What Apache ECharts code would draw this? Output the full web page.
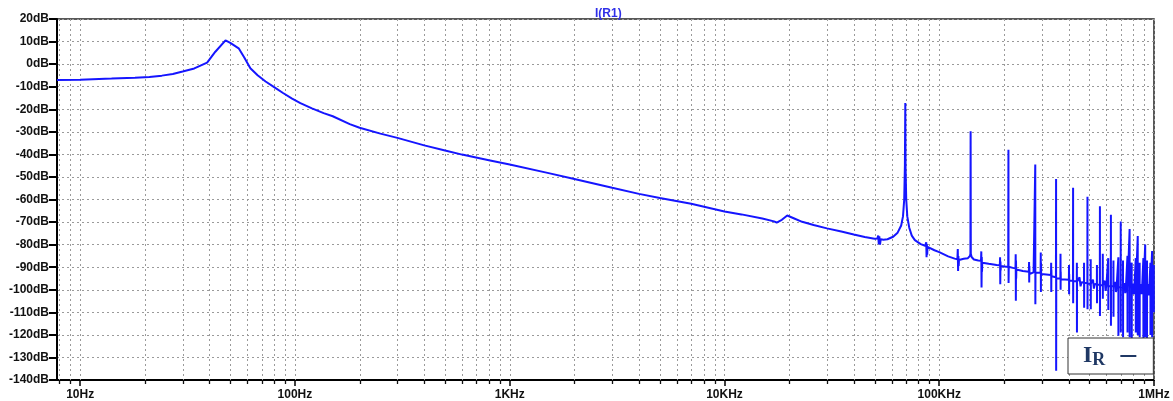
<!DOCTYPE html>
<html><head><meta charset="utf-8">
<script src="https://cdn.jsdelivr.net/npm/echarts@6/dist/echarts.min.js"></script>
<style>html,body{margin:0;padding:0;background:#fff}#c{width:1173px;height:401px}</style>
</head><body><div id="c"></div>
<script>
const titleText = 'I(R1)';
const seriesName = 'IR';
const yMin = -140, yMax = 20, yStep = 10;
const xMin = 7.8, xMax = 1000000;
const xTickFreqs = [10, 100, 1000, 10000, 100000, 1000000];
const xTickLabels = ['10Hz', '100Hz', '1KHz', '10KHz', '100KHz', '1MHz'];
const gridFreqs = [8, 9,
  10, 20, 30, 40, 50, 60, 70, 80, 90,
  100, 200, 300, 400, 500, 600, 700, 800, 900,
  1000, 2000, 3000, 4000, 5000, 6000, 7000, 8000, 9000,
  10000, 20000, 30000, 40000, 50000, 60000, 70000, 80000, 90000,
  100000, 200000, 300000, 400000, 500000, 600000, 700000, 800000, 900000,
  1000000];

// [frequency Hz, level dB]
const lowBand = [
  [7.8,-7.0],[10,-6.9],[14,-6.4],[18,-6.0],[21,-5.7],[24,-5.1],[27,-4.4],[30,-3.3],
  [34,-1.9],[39,0.7],[42.6,5.5],[47.5,10.5],[50,9.4],[54.7,7.0],[58,3.0],[62,-1.8],
  [67,-4.9],[73,-7.7],[80,-10.2],[88,-12.8],[97,-15.3],[106,-17.3],[120,-19.6],
  [136,-21.7],[150,-23.1],[180,-26.6],[200,-28.2],[250,-30.8],[300,-32.7],[400,-36.0],
  [500,-38.3],[600,-40.1],[800,-42.6],[1000,-44.5]
];
const midBand = [
  [1500,-48.2],[2000,-50.9],[3000,-54.8],[4000,-57.5],[5000,-59.3],[7000,-61.9],
  [10000,-65.3],[12000,-66.6],[15000,-68.4],[17000,-69.7],[17500,-70.2],[18500,-69.0],
  [19600,-67.1],[21000,-68.3],[23000,-69.9],[26000,-71.3],[30000,-72.8],[35000,-74.2],
  [40000,-75.5],[45000,-76.6],[50000,-77.4],
  [51500,-77.3],[52000,-76.0],[52300,-79.8],[52600,-76.3],[53000,-80.0],[53400,-77.6]
];
const resonance = [
  [55000,-77.8],[57400,-77.6],[61000,-76.5],[64000,-74.7],[66500,-71.5],[67800,-67.5],
  [68700,-60],[69200,-45],[69500,-17.2],[69700,-46],[70200,-60],[71000,-67.5],
  [72500,-72.5],[74500,-76],[77000,-78],[82000,-79.8],[86000,-80.5],
  [87000,-79],[87300,-85.6],[87600,-79.8],[87900,-84.5],[88200,-81],
  [95000,-82.5],[100000,-83.3],[110000,-85.2],[118000,-86.2]
];
const harmonics = [
  [121500,-86.5],[122000,-82],[122400,-91.7],[122800,-85],[123200,-89.5],[123600,-86.8],
  [130000,-86.3],[136000,-86],[139000,-85],[139700,-84],[140000,-29.8],[140300,-84],[141500,-85.5],
  [145000,-86.6],[152000,-87],
  [156500,-87.2],[157000,-83],[157400,-99],[157800,-85.5],[158200,-92],[158600,-88],
  [170000,-88.5],[185000,-89],
  [191500,-89.2],[192000,-85.6],[192400,-97.6],[192800,-87.5],[193200,-91.5],[193600,-89.5],
  [205000,-89.8],[209500,-89.8],[210000,-37.9],[210300,-97],[210700,-89.8],[220000,-90.3],
  [226500,-90.5],[227000,-84.3],[227400,-104.9],[227800,-87],[228200,-95],[228600,-91],
  [245000,-91.7],
  [261500,-92],[262000,-87.7],[262400,-96.8],[262800,-89.5],[263200,-93],
  [275000,-92.3],[279500,-92.3],[280000,-44.5],[280300,-106.4],[280700,-92.4],
  [296500,-92.5],[297000,-83.5],[297400,-101],[297800,-88],[298200,-93],
  [315000,-93.2],
  [331500,-93.5],[332000,-88],[332400,-101],[332800,-91],[333200,-94],
  [349500,-94.5],[350000,-50.9],[350300,-135.9],[350700,-95],
  [366500,-95],[367000,-84],[367400,-100],[367800,-92],[368200,-95.4],
  [385000,-95.5],
  [401500,-95.6],[402000,-89],[402400,-102],[402800,-93],[403200,-96],
  [419500,-96],[420000,-54.8],[420300,-106],[420700,-96.2],
  [437000,-96.2],[437400,-88],[437800,-119],[438200,-96.5],
  [450000,-94.5],[455000,-98.5],[460000,-96.7],
  [472000,-96.8],[472400,-88],[472800,-108],[473200,-97],
  [489500,-97],[490000,-58.8],[490300,-108.6],[490700,-97.2],
  [507000,-97.3],[507400,-86.5],[507800,-108.6],[508200,-97.4],
  [520000,-95.5],[525000,-99.5],[530000,-97.5],
  [542000,-97.6],[542400,-89],[542800,-106],[543200,-97.8],
  [559500,-97.8],[560000,-63],[560300,-111.6],[560700,-98],
  [577000,-98],[577400,-84],[577800,-104],[578200,-98],
  [590000,-96],[595000,-100.5],[600000,-98.2],
  [612000,-98.2],[612400,-86],[612800,-109],[613200,-98.3],
  [629500,-98.4],[630000,-66.8],[630300,-116],[630700,-98.5],
  [647000,-98.5],[647400,-87],[647800,-112],[648200,-98.6],
  [660000,-96.5],[665000,-101],[670000,-98.7],
  [682000,-98.7],[682400,-85.6],[682800,-120.4],[683200,-98.8],
  [699500,-98.9],[700000,-69.8],[700300,-118.9],[700700,-99],
  [717000,-99],[717400,-87],[717800,-121],[718200,-99],
  [730000,-97],[735000,-101.5],[740000,-99.1],
  [752000,-99.1],[752400,-85],[752800,-118.9],[753200,-99.2],
  [769500,-99.2],[770000,-73.1],[770300,-121],[770700,-99.3],
  [787000,-99.3],[787400,-88],[787800,-122],[788200,-99.4],
  [800000,-97.2],[805000,-102],[810000,-99.4],
  [822000,-99.4],[822400,-86],[822800,-119],[823200,-99.5],
  [839500,-99.5],[840000,-76.2],[840300,-120],[840700,-99.5],
  [857000,-99.5],[857400,-88],[857800,-121],[858200,-99.6],
  [870000,-97.5],[875000,-102],[880000,-99.6],
  [892000,-99.6],[892400,-86],[892800,-122],[893200,-99.6],
  [909500,-99.6],[910000,-79.9],[910300,-121],[910700,-99.7],
  [927000,-99.7],[927400,-87],[927800,-122.5],[928200,-99.7],
  [940000,-97.5],[945000,-102.5],[950000,-99.7],
  [962000,-99.7],[962400,-88],[962800,-120],[963200,-99.8],
  [979500,-99.8],[980000,-82.8],[980300,-121],[980700,-99.8],
  [990000,-97.5],[997000,-99.8],[997400,-89],[997800,-110],[998200,-99.8],[1000000,-99.8]
];

const curve = lowBand.concat(midBand, resonance, harmonics);

const chart = echarts.init(document.getElementById('c'), null, {renderer: 'canvas'});
const gridColor = '#9a9a9a';
chart.setOption({
  animation: false,
  backgroundColor: '#ffffff',
  title: {
    text: titleText, left: 590, top: 3,
    textStyle: {color: '#2f2fe8', fontSize: 12, fontWeight: 'bold', fontFamily: 'Liberation Sans'}
  },
  legend: {
    left: 1068, top: 338, selectedMode: false, align: 'right',
    icon: 'rect', itemWidth: 16, itemHeight: 2, itemGap: 0,
    padding: [5, 17, 5, 15],
    borderColor: '#333', borderWidth: 1, backgroundColor: '#fff',
    itemStyle: {color: '#1f3864'},
    formatter: function () { return '{i|I}{r|R}'; },
    textStyle: {
      rich: {
        i: {fontSize: 24, fontFamily: 'Liberation Serif', fontWeight: 'bold', color: '#1f3864', lineHeight: 28},
        r: {fontSize: 18, fontFamily: 'Liberation Serif', fontWeight: 'bold', color: '#1f3864', lineHeight: 20, padding: [8, 10, 0, 0]}
      }
    },
    data: [seriesName]
  },
  grid: {left: 57, right: 19, top: 19, bottom: 20, show: true, borderColor: '#222', borderWidth: 1.5},
  xAxis: {
    type: 'log', logBase: 10, min: xMin, max: xMax,
    axisLine: {show: true, onZero: false, lineStyle: {color: '#000', width: 2}},
    axisTick: {show: true, length: 6, lineStyle: {color: '#000', width: 1.5}},
    axisLabel: {
      showMinLabel: false, color: '#111', fontWeight: 'bold', fontSize: 12,
      fontFamily: 'Liberation Sans', margin: 9,
      formatter: function (v) {
        const i = xTickFreqs.indexOf(Math.round(v));
        return i >= 0 ? xTickLabels[i] : '';
      }
    },
    splitLine: {show: false}
  },
  yAxis: {
    type: 'value', min: yMin, max: yMax, interval: yStep,
    axisLine: {show: true, onZero: false, lineStyle: {color: '#000', width: 2}},
    axisTick: {show: true, length: 8, lineStyle: {color: '#000', width: 2}},
    axisLabel: {
      color: '#111', fontWeight: 'bold', fontSize: 12, fontFamily: 'Liberation Sans', margin: 8,
      formatter: function (v) { return v + 'dB'; }
    },
    splitLine: {show: true, lineStyle: {color: gridColor, width: 1, type: [2, 3]}}
  },
  series: [
    {
      type: 'custom', silent: true, z: 1, clip: false,
      data: gridFreqs.map(function (f) { return [f, yMin]; }),
      renderItem: function (params, api) {
        const f = api.value(0);
        const top = api.coord([f, yMax]);
        const bot = api.coord([f, yMin]);
        const x = Math.round(top[0]) + 0.5;
        const children = [{
          type: 'line', shape: {x1: x, y1: top[1], x2: x, y2: bot[1]},
          style: {stroke: gridColor, lineWidth: 1, lineDash: [2, 3]}
        }];
        if (xTickFreqs.indexOf(f) < 0) {
          children.push({
            type: 'line', shape: {x1: x, y1: bot[1], x2: x, y2: bot[1] + 4},
            style: {stroke: '#111', lineWidth: 1.3}
          });
        }
        return {type: 'group', children: children};
      }
    },
    {
      name: seriesName, type: 'line', z: 3, showSymbol: false, symbol: 'none',
      data: curve,
      lineStyle: {color: '#1515ff', width: 2},
      itemStyle: {color: '#1f3864'}
    }
  ]
});
</script>
</body></html>
